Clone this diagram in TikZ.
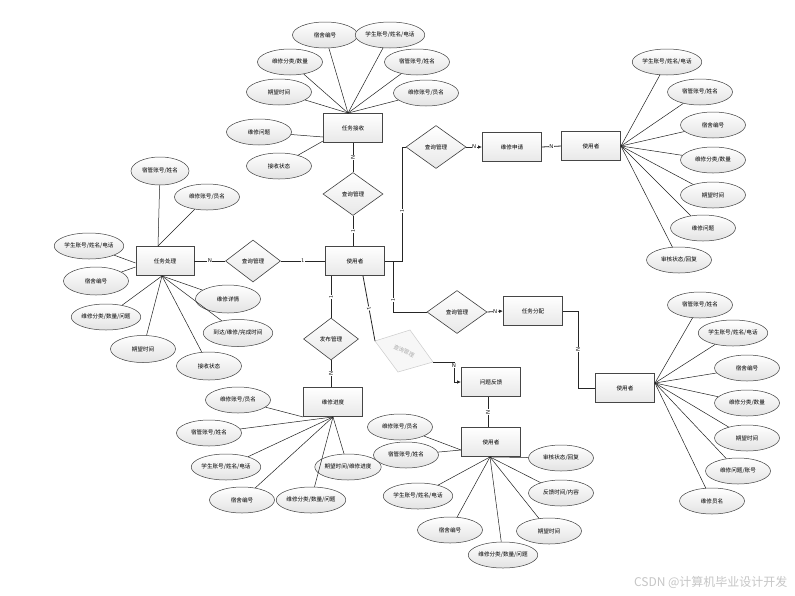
\documentclass[tikz,border=0pt]{standalone}
\usepackage{fontspec}
\newfontfamily\cjk{Noto Sans CJK SC}
\usetikzlibrary{shapes.geometric,arrows.meta,calc}
\begin{document}
\begin{tikzpicture}[x=1pt,y=-1pt,
  every node/.style={font=\cjk\fontsize{5.6}{6.5}\selectfont},
  ent/.style={rectangle,draw=gray!55!black,line width=0.9pt,top color=white,bottom color=gray!18,minimum width=59pt,minimum height=29pt,inner sep=1pt},
  attr/.style={ellipse,draw=gray!50!black,line width=0.5pt,top color=white,bottom color=gray!22,minimum width=65pt,minimum height=26pt,inner sep=0pt},
  rel/.style={diamond,draw=gray!50!black,line width=0.6pt,top color=white,bottom color=gray!18,minimum width=60pt,minimum height=43pt,inner sep=0pt,aspect=1.4},
  ln/.style={draw=gray!25!black,line width=0.5pt},
  cn/.style={draw=black!85,line width=0.8pt},
  card/.style={fill=white,inner sep=0.6pt,font=\sffamily\fontsize{5.5}{5.5}\selectfont},
  arr/.style={-{Latex[length=4pt,width=3.5pt]}}
]
\useasboundingbox (0,0) rectangle (795,595);
\fill[white] (0,0) rectangle (795,595);

% ---------- entities and relations ----------
\node[ent] (u0) at (355,261) {使用者};
\node[ent] (rx) at (353,128) {任务接收};
\node[rel] (d1) at (353,194) {查询管理};
\node[rel] (d2) at (436,147) {查询管理};
\node[ent] (sq) at (512,147) {维修申请};
\node[ent] (u1) at (591,146) {使用者};
\node[rel,minimum width=55pt,minimum height=42pt] (d3) at (253,261) {查询管理};
\node[ent,minimum width=58pt] (cl) at (165,261) {任务处理};
\node[rel,minimum width=55pt,minimum height=42pt] (d4) at (331,339) {发布管理};
\node[ent] (jd) at (333,402) {维修进度};
\node[ent] (fk) at (491,382) {问题反馈};
\node[ent] (u2) at (491,442) {使用者};
\node[rel] (d5) at (457,312) {查询管理};
\node[ent] (fp) at (533,311) {任务分配};
\node[ent] (u3) at (625,388) {使用者};

% grey tilted diamond
\coordinate (g1) at (375,341);
\coordinate (g2) at (410,330);
\coordinate (g3) at (433,362);
\coordinate (g4) at (398,372);
\draw[fill=gray!6,draw=gray!40,line width=0.5pt] (g1) -- (g2) -- (g3) -- (g4) -- cycle;
\node[text=gray!65,rotate=-26,inner sep=0pt] (gd) at (404,351) {查询管理};

\draw[cn] (rx.south) -- node[card,rotate=90]{N} (d1.north);
\draw[cn] (d1.south) -- node[card,rotate=90]{1} (d1.south |- u0.north);
\draw[cn] (u0.east) -- ++(17,0) |- node[card,pos=0.22,rotate=90]{1} (d2.west);
\draw[cn,arr] (d2.east) -- node[card]{N} (sq.west);
\draw[cn] (sq.east) -- node[card]{N} (u1.west);
\draw[cn] (u0.west) -- node[card]{1} (d3.east);
\draw[cn] (d3.west) -- node[card]{N} (cl.east);
\draw[cn] (u0.south -| d4.north) -- node[card,rotate=90]{1} (d4.north);
\draw[cn] (d4.south) -- node[card,rotate=90]{N} (d4.south |- jd.north);
\coordinate (u0b) at ($(u0.south)+(8,0)$);
\draw[cn] (u0b) -- node[card,sloped]{1} (g1);
\draw[cn,arr] (g3) -- ++(21,0) |- node[card,pos=0.08]{N} (fk.west);
\draw[cn] ($(fk.south)+(-3,0)$) -- node[card,rotate=90]{N} ($(u2.north)+(-3,0)$);
\draw[cn] (u0.east) -- ++(8,0) |- node[card,pos=0.38,rotate=90]{1} (d5.west);
\draw[cn,arr] (d5.east) -- node[card]{N} (fp.west);
\draw[cn] (fp.east) -- ++(15,0) |- node[card,pos=0.25,rotate=90]{N} (u3.west);

% ---------- attributes of 任务接收 ----------
\node[attr] (a1) at (325,35) {宿舍编号};
\node[attr] (a2) at (390,35) {学生账号/姓名/电话};
\node[attr] (a3) at (290,62) {维修分类/数量};
\node[attr] (a4) at (417,62) {宿管账号/姓名};
\node[attr] (a5) at (279,92) {期望时间};
\node[attr] (a6) at (426,93) {维修账号/员名};
\node[attr] (a7) at (259,132) {维修问题};
\node[attr] (a8) at (279,166) {接收状态};
\coordinate (rxT) at ($(rx.north)+(-5,0)$);
\foreach \e in {a1,a2,a3,a4,a5,a6} \draw[ln] (rxT) -- (\e);
\draw[ln] ($(rx.west)+(0,9)$) -- (a7);
\draw[ln] ($(rx.west)+(0,13)$) -- (a8);

% ---------- attributes of 使用者 (top right) ----------
\node[attr] (b1) at (667,62) {学生账号/姓名/电话};
\node[attr] (b2) at (700,92) {宿管账号/姓名};
\node[attr] (b3) at (713,125) {宿舍编号};
\node[attr] (b4) at (713,160) {维修分类/数量};
\node[attr] (b5) at (713,195) {期望时间};
\node[attr] (b6) at (703,228) {维修问题};
\node[attr] (b7) at (679,260) {审核状态/回复};
\foreach \e in {b1,b2,b3,b4,b5,b6,b7} \draw[ln] (u1.east) -- (\e);

% ---------- attributes of 任务处理 ----------
\node[attr,minimum width=58pt,minimum height=28pt] (c1) at (160,171) {宿管账号/姓名};
\node[attr] (c2) at (207,197) {维修账号/员名};
\node[attr] (c3) at (89,246) {学生账号/姓名/电话};
\node[attr,minimum height=28pt] (c4) at (96,281) {宿舍编号};
\node[attr] (c5) at (106,317) {维修分类/数量/问题};
\node[attr,minimum height=27pt] (c6) at (143,349) {期望时间};
\node[attr,minimum height=28pt] (c7) at (209,366) {接收状态};
\node[attr,minimum height=28pt] (c8) at (228,299) {维修详情};
\node[attr,minimum height=27pt] (c9) at (238,333) {到达/维修/完成时间};
\coordinate (clT) at ($(cl.north)+(-7,0)$);
\coordinate (clB) at ($(cl.south)+(-3,0)$);
\draw[ln] (clT) -- (c1);
\draw[ln] (clT) -- (c2);
\draw[ln] ($(cl.west)+(0,2)$) -- (c3);
\draw[ln] ($(cl.west)+(0,6)$) -- (c4);
\foreach \e in {c5,c6,c7,c8,c9} \draw[ln] (clB) -- (\e);

% ---------- attributes of 维修进度 ----------
\node[attr] (e1) at (238,400) {维修账号/员名};
\node[attr] (e2) at (209,433) {宿管账号/姓名};
\node[attr] (e3) at (226,467) {学生账号/姓名/电话};
\node[attr] (e4) at (242,500) {宿舍编号};
\node[attr] (e5) at (311,500) {维修分类/数量/问题};
\node[attr] (e6) at (348,467) {期望时间/维修进度};
\draw[ln] (jd.south west) -- (e1);
\foreach \e in {e2,e3,e4,e5,e6} \draw[ln] (jd.south) -- (\e);

% ---------- attributes of 使用者 (bottom) ----------
\node[attr] (f1) at (400,427) {维修账号/员名};
\node[attr] (f2) at (406,455) {宿管账号/姓名};
\node[attr] (f3) at (418,496) {学生账号/姓名/电话};
\node[attr] (f4) at (450,530) {宿舍编号};
\node[attr] (f5) at (503,555) {维修分类/数量/问题};
\node[attr] (f6) at (549,531) {期望时间};
\node[attr] (f7) at (561,493) {反馈时间/内容};
\node[attr] (f8) at (561,458) {审核状态/回复};
\coordinate (u2L) at ($(u2.west)+(0,8)$);
\draw[ln] (u2L) -- (f1);
\draw[ln] (u2L) -- (f2);
\foreach \e in {f3,f4,f5,f6,f7,f8} \draw[ln] ($(u2.south)+(-1,0)$) -- (\e);

% ---------- attributes of 使用者 (bottom right) ----------
\node[attr] (h1) at (700,305) {宿管账号/姓名};
\node[attr] (h2) at (733,333) {学生账号/姓名/电话};
\node[attr] (h3) at (747,368) {宿舍编号};
\node[attr] (h4) at (747,403) {维修分类/数量};
\node[attr] (h5) at (747,438) {期望时间};
\node[attr] (h6) at (738,471) {维修问题/账号};
\node[attr] (h7) at (712,501) {维修员名};
\coordinate (u3R) at ($(u3.east)+(0,-5)$);
\foreach \e in {h1,h2,h3,h4,h5,h6,h7} \draw[ln] (u3R) -- (\e);

% watermark
\node[text=gray!45,font=\cjk\fontsize{12}{13}\selectfont,anchor=east] (wm) at (791,582) {CSDN @计算机毕业设计开发};
\end{tikzpicture}
\end{document}
